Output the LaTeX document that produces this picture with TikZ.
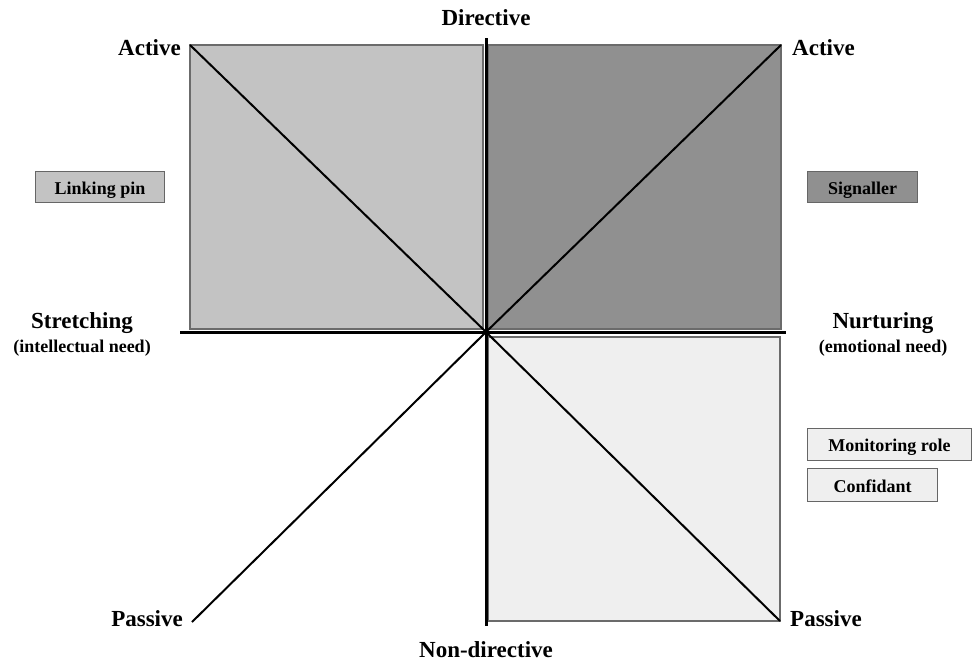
\documentclass[tikz,border=0pt]{standalone}
\usepackage{fontspec}
\setmainfont{Liberation Serif}
\begin{document}
\begin{tikzpicture}[x=1pt,y=-1pt,
  big/.style={font=\fontsize{23}{26}\selectfont\bfseries, inner sep=0pt},
  sub/.style={font=\fontsize{18}{20}\selectfont\bfseries, inner sep=0pt},
  rolebox/.style={draw=black!60, line width=1pt, inner sep=0pt, minimum height=31pt, anchor=west},
  rolelabel/.style={font=\fontsize{18}{20}\selectfont\bfseries, inner sep=0pt, anchor=base},
  quad/.style={draw=black!58, line width=1.3pt},
  axis/.style={line width=3pt, black},
  diag/.style={line width=2pt, black}]
\useasboundingbox (0,0) rectangle (973,662);
\definecolor{qa}{HTML}{C3C3C3}
\definecolor{qb}{HTML}{909090}
\definecolor{qc}{HTML}{EFEFEF}
% quadrants
\draw[quad, fill=qa] (190,45) rectangle (483,329);
\draw[quad, fill=qb] (488,45) rectangle (781,329);
\draw[quad, fill=qc] (488,337) rectangle (780,621);
% key points
\coordinate (O) at (486,332);
\coordinate (tl) at (190,45);
\coordinate (tr) at (781,45);
\coordinate (br) at (780,621);
\coordinate (bl) at (192,622);
\coordinate (ytop) at (486,38);
\coordinate (ybot) at (486,626);
\coordinate (xl) at (180,332);
\coordinate (xr) at (786,332);
% axes
\draw[axis] (ytop) -- (ybot);
\draw[axis] (xl) -- (xr);
% diagonals
\draw[diag] (tl) -- (O);
\draw[diag] (O) -- (tr);
\draw[diag] (O) -- (br);
\draw[diag] (O) -- (bl);
% labels
\node[big] (dir) at (486,18) {Directive};
\node[big] (ndir) at (486,650) {Non-directive};
\node[big, anchor=east] (actl) at (181,48) {Active};
\node[big, anchor=west] (actr) at (792,48) {Active};
\node[big, anchor=east] (pasl) at (183,619) {Passive};
\node[big, anchor=west] (pasr) at (790,619) {Passive};
\node[big] (str) at (82,323) {Stretching};
\node[sub] (strs) at (82,348) {(intellectual need)};
\node[big] (nur) at (883,323) {Nurturing};
\node[sub] (nurs) at (883,348) {(emotional need)};
% role boxes
\node[rolebox, fill=qa, minimum width=129pt] (link) at (35,186.5) {};
\node[rolelabel] (linkt) at ([yshift=-7.5pt]link.center) {Linking pin};
\node[rolebox, fill=qb, minimum width=110pt] (sig) at (807,186.5) {};
\node[rolelabel] (sigt) at ([yshift=-7.5pt]sig.center) {Signaller};
\node[rolebox, fill=qc, minimum width=164pt, minimum height=32pt] (mon) at (807,444) {};
\node[rolelabel] (mont) at ([yshift=-7.5pt]mon.center) {Monitoring role};
\node[rolebox, fill=qc, minimum width=130pt, minimum height=33pt] (conf) at (807,484.5) {};
\node[rolelabel] (conft) at ([yshift=-7.5pt]conf.center) {Confidant};
\end{tikzpicture}
\end{document}
